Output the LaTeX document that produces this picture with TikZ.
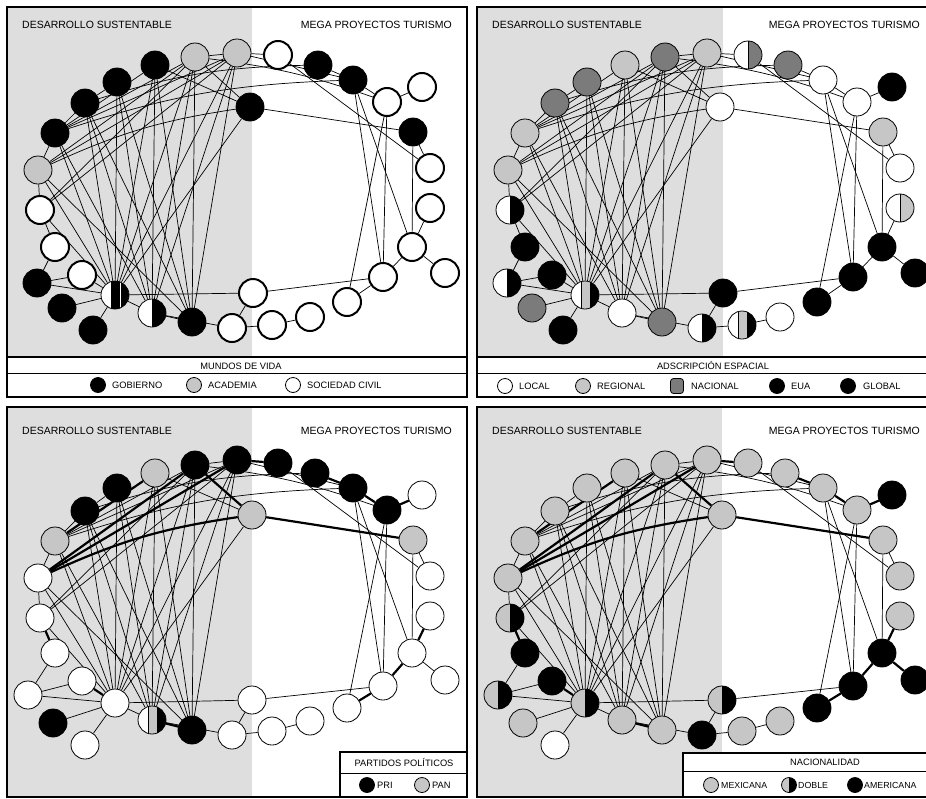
\documentclass[tikz,border=0pt]{standalone}
\usepackage{fontspec}
\setmainfont{Liberation Sans}
\pgfdeclarelayer{bgl}
\pgfdeclarelayer{edgel}
\pgfsetlayers{bgl,edgel,main}
\definecolor{bgray}{HTML}{DEDEDE}
\definecolor{lg}{HTML}{C6C6C6}
\definecolor{dg}{HTML}{7B7B7B}
\tikzset{
  nd/.style={circle, minimum size=28, inner sep=0, draw=black, line width=0.8},
  nb/.style={nd, fill=black},
  ng/.style={nd, fill=lg},
  nn/.style={nd, fill=dg},
  nw/.style={nd, fill=white},
  nwt/.style={nd, fill=white, line width=2},
  halfnode/.style 2 args={nd, fill=#1, path picture={
     \fill[#2] (path picture bounding box.north) rectangle (path picture bounding box.south east);
     \draw[line width=0.8] (path picture bounding box.north) -- (path picture bounding box.south);}},
  trinode/.style 2 args={nd, fill=white, path picture={
     \fill[black] ([xshift=5pt]path picture bounding box.north) rectangle (path picture bounding box.south east);
     \fill[#1] ([xshift=-4pt]path picture bounding box.north) rectangle ([xshift=5pt]path picture bounding box.south);
     \draw[line width=0.8] ([xshift=-4pt]path picture bounding box.north) -- ([xshift=-4pt]path picture bounding box.south);
     \draw[#2, line width=1] ([xshift=5pt]path picture bounding box.north) -- ([xshift=5pt]path picture bounding box.south);}},
  hWB/.style={halfnode={white}{black}},
  hWD/.style={halfnode={white}{dg}},
  hWL/.style={halfnode={white}{lg}},
  hLB/.style={halfnode={lg}{black}},
  tBw/.style={trinode={black}{white}},
  tL/.style={trinode={lg}{black}},
  lnk/.style={line width=0.7, draw=black},
  lnkthick/.style={line width=2.2, draw=black},
  frm/.style={line width=1.8, draw=black},
  ttl/.style={font=\fontsize{10.5}{12}\selectfont, inner sep=0},
  lgt/.style={font=\fontsize{9.3}{11}\selectfont, inner sep=0},
  ico/.style={minimum size=15},
}
\def\posTop{1/195/57,2/237/53,3/278/55,4/318/65,5/353/80,6/422/87,7/387/102,8/250/107,9/413/132,10/430/168,11/430/208,12/412/247,13/445/273,14/383/277,15/347/302,16/310/317,17/272/325,18/232/328,19/253/293,20/192/322,21/152/313,22/115/295,23/93/330,24/62/308,25/37/283,26/82/275,27/55/247,28/40/210,29/38/170,30/55/133,31/85/103,32/117/82,33/155/65}
\def\posBot{1/195/67,2/237/62,3/278/65,4/315/75,5/353/90,6/422/97,7/387/112,8/252/117,9/413/142,10/430/178,11/430/218,12/412/255,13/445/282,14/383/288,15/347/310,16/310/323,17/272/333,18/232/337,19/252/302,20/192/332,21/152/322,22/115/305,23/85/347,24/53/325,25/28/297,26/82/283,27/55/255,28/40/220,29/38/180,30/55/143,31/85/113,32/117/90,33/155/75}
\def\edgesThin{1/2,2/3,4/5,5/7,6/7,9/10,11/12,12/13,12/14,14/15,16/17,17/18,18/19,20/21,21/22,22/23,22/24,22/25,22/26,25/26,25/27,27/28,28/29,29/30,30/31,31/32,8/9,14/19,3/10,5/14,5/12,7/14,7/15,9/12,2/5,33/8,1/8,22/1,22/2,22/33,22/32,22/31,22/30,22/29,22/28,22/8,22/19,21/18,21/1,21/2,21/33,21/31,21/30,21/32,20/1,20/2,20/31,20/32,20/33,20/29,29/1,29/2,30/1,30/2,30/33,28/1,28/2}
\def\edgesCurve{31/4/8,30/5/8,1/7/6,29/8/8}
\def\edgesThick{2/3,4/5,5/7,6/7,8/9,1/8,29/1,29/2,30/33,27/28,22/26,20/21,11/12,12/14,14/15}
\newcommand\placenodes[2]{% #1 prefix, #2 style list
  \def\pfx{#1}%
  \foreach \ia/\st in {#2}{\edef\tmp{\noexpand\node[\st] (\pfx\ia) at (q\ia) {};}\tmp}%
}
\newcommand\thinedges{%
  \begin{pgfonlayer}{edgel}
  \foreach \ia/\ib in \edgesThin {\draw[lnk] (\pfx\ia) -- (\pfx\ib);}
  \foreach \ia/\ib/\bb in \edgesCurve {\draw[lnk] (\pfx\ia) to[bend left=\bb] (\pfx\ib);}
  \end{pgfonlayer}}
\newcommand\thickedges{%
  \begin{pgfonlayer}{edgel}
  \foreach \ia/\ib in \edgesThick {\draw[lnkthick] (\pfx\ia) -- (\pfx\ib);}
  \draw[lnkthick] (\pfx29) to[bend left=8] (\pfx8);
  \end{pgfonlayer}}
\begin{document}
\begin{tikzpicture}[x=1pt,y=-1pt]
\useasboundingbox (0,0) rectangle (926,798);
% ---------- backgrounds
\begin{pgfonlayer}{bgl}
\fill[white] (0,0) rectangle (926,798);
\fill[bgray] (8,8) rectangle (252,357);
\fill[bgray] (478,8) rectangle (723,357);
\fill[bgray] (8,408) rectangle (252,797);
\fill[bgray] (478,408) rectangle (722,797);
\end{pgfonlayer}
% ---------- panel A (top left)
\begin{scope}[shift={(0,0)}]
\foreach \ia/\xx/\yy in \posTop {\coordinate (q\ia) at (\xx,\yy);}
\end{scope}
\placenodes{a}{1/ng,2/ng,3/nwt,4/nb,5/nb,6/nwt,7/nwt,8/nb,9/nb,10/nwt,11/nwt,12/nwt,13/nwt,14/nwt,15/nwt,16/nwt,17/nwt,18/nwt,19/nwt,20/nb,21/hWB,22/tBw,23/nb,24/nb,25/nb,26/nwt,27/nwt,28/nwt,29/ng,30/nb,31/nb,32/nb,33/nb}
\thinedges
% ---------- panel B (top right)
\begin{scope}[shift={(470,0)}]
\foreach \ia/\xx/\yy in \posTop {\coordinate (q\ia) at (\xx,\yy);}
\end{scope}
\placenodes{b}{1/nn,2/ng,3/hWD,4/nn,5/nw,6/nb,7/nw,8/nw,9/ng,10/nw,11/hWL,12/nb,13/nb,14/nb,15/nb,16/nw,17/tL,18/hWB,19/nb,20/nn,21/nw,22/tL,23/nb,24/nn,25/hWB,26/nb,27/nb,28/hWB,29/ng,30/ng,31/nn,32/nn,33/ng}
\thinedges
% ---------- panel C (bottom left)
\begin{scope}[shift={(0,398)}]
\foreach \ia/\xx/\yy in \posBot {\coordinate (q\ia) at (\xx,\yy);}
\end{scope}
\placenodes{c}{1/nb,2/nb,3/nb,4/nb,5/nb,6/nw,7/nb,8/ng,9/ng,10/nw,11/nw,12/nw,13/nw,14/nw,15/nw,16/nw,17/nw,18/nw,19/nw,20/nb,21/tL,22/nw,23/nw,24/nb,25/nw,26/nw,27/nw,28/nw,29/nw,30/ng,31/nb,32/nb,33/ng}
\thinedges
\thickedges
% ---------- panel D (bottom right)
\begin{scope}[shift={(470,398)}]
\foreach \ia/\xx/\yy in \posBot {\coordinate (q\ia) at (\xx,\yy);}
\end{scope}
\placenodes{d}{1/ng,2/ng,3/ng,4/ng,5/ng,6/nb,7/ng,8/ng,9/ng,10/ng,11/ng,12/nb,13/nb,14/nb,15/nb,16/ng,17/ng,18/nb,19/hLB,20/ng,21/ng,22/hLB,23/nw,24/ng,25/hLB,26/nb,27/nb,28/hLB,29/ng,30/ng,31/ng,32/ng,33/ng}
\thinedges
\thickedges
\begin{pgfonlayer}{edgel}
\draw[lnkthick] (d12) -- (d13);
\end{pgfonlayer}
% ---------- frames
\draw[frm] (7,7) rectangle (467,397);
\draw[frm] (7,357) -- (467,357);
\draw[line width=0.8] (7,373) -- (467,373);
\draw[frm] (477,7) rectangle (930,397);
\draw[frm] (477,357) -- (930,357);
\draw[line width=0.8] (477,373) -- (930,373);
\draw[frm] (7,407) rectangle (467,797);
\draw[frm] (477,407) rectangle (930,797);
\filldraw[fill=white, line width=1.8] (340,752) rectangle (467,797);
\draw[line width=0.8] (340,773) -- (467,773);
\filldraw[fill=white, line width=1.8] (683,753) rectangle (930,797);
\draw[line width=0.8] (683,771) -- (930,771);
% ---------- titles
\node[ttl, anchor=west] (t1) at (22,25) {DESARROLLO SUSTENTABLE};
\node[ttl, anchor=east] (t2) at (452,25) {MEGA PROYECTOS TURISMO};
\node[ttl, anchor=west] (t3) at (492,25) {DESARROLLO SUSTENTABLE};
\node[ttl, anchor=east] (t4) at (920,25) {MEGA PROYECTOS TURISMO};
\node[ttl, anchor=west] (t5) at (22,431) {DESARROLLO SUSTENTABLE};
\node[ttl, anchor=east] (t6) at (452,431) {MEGA PROYECTOS TURISMO};
\node[ttl, anchor=west] (t7) at (492,431) {DESARROLLO SUSTENTABLE};
\node[ttl, anchor=east] (t8) at (920,431) {MEGA PROYECTOS TURISMO};
% ---------- legend A
\node[lgt] (ha) at (241,366) {MUNDOS DE VIDA};
\node[nb, ico] (ia1) at (98,385) {};
\node[lgt, anchor=west] (la1) at (112,385) {GOBIERNO};
\node[ng, ico] (ia2) at (194,385) {};
\node[lgt, anchor=west] (la2) at (208,385) {ACADEMIA};
\node[nw, ico] (ia3) at (293,385) {};
\node[lgt, anchor=west] (la3) at (307,385) {SOCIEDAD CIVIL};
% ---------- legend B
\node[lgt] (hb) at (713,366) {ADSCRIPCIÓN ESPACIAL};
\node[nw, ico] (ib1) at (505,386) {};
\node[lgt, anchor=west] (lb1) at (519,386) {LOCAL};
\node[ng, ico] (ib2) at (583,386) {};
\node[lgt, anchor=west] (lb2) at (597,386) {REGIONAL};
\node[draw, fill=dg, line width=0.8, rounded corners=3, minimum width=13, minimum height=15, inner sep=0] (ib3) at (677,386) {};
\node[lgt, anchor=west] (lb3) at (691,386) {NACIONAL};
\node[nb, ico] (ib4) at (777,386) {};
\node[lgt, anchor=west] (lb4) at (791,386) {EUA};
\node[nb, ico] (ib5) at (848,386) {};
\node[lgt, anchor=west] (lb5) at (863,386) {GLOBAL};
% ---------- legend C
\node[lgt] (hc) at (404,763) {PARTIDOS POLÍTICOS};
\node[nb, ico] (ic1) at (367,785) {};
\node[lgt, anchor=west] (lc1) at (377,785) {PRI};
\node[ng, ico] (ic2) at (422,785) {};
\node[lgt, anchor=west] (lc2) at (432,785) {PAN};
% ---------- legend D
\node[lgt] (hd) at (825,762) {NACIONALIDAD};
\node[ng, ico] (id1) at (711,785) {};
\node[lgt, anchor=west, font=\fontsize{8.8}{10}\selectfont] (ld1) at (721,785) {MEXICANA};
\node[hLB, ico] (id2) at (789,785) {};
\node[lgt, anchor=west, font=\fontsize{8.8}{10}\selectfont] (ld2) at (798,785) {DOBLE};
\node[nb, ico] (id3) at (855,785) {};
\node[lgt, anchor=west, font=\fontsize{8.8}{10}\selectfont] (ld3) at (864,785) {AMERICANA};
\end{tikzpicture}
\end{document}
